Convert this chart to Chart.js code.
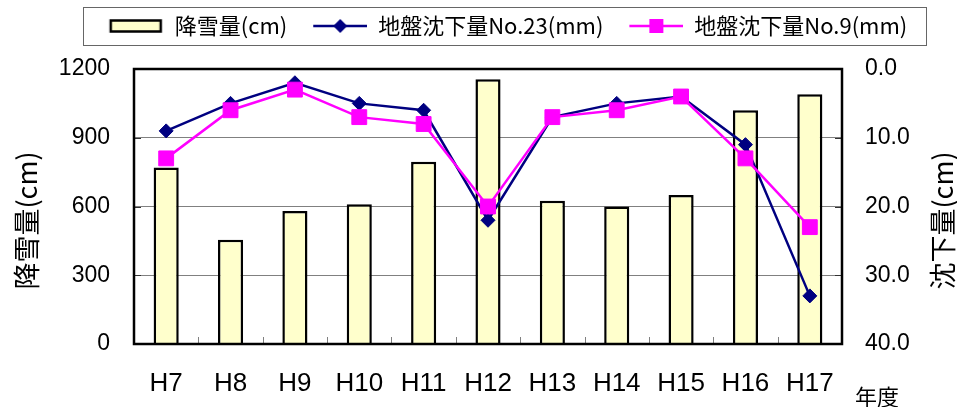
<!DOCTYPE html>
<html lang="ja">
<head>
<meta charset="utf-8">
<title>降雪量と地盤沈下量</title>
<script src="https://cdn.jsdelivr.net/npm/chart.js@4.4.1/dist/chart.umd.min.js"></script>
<style>
  html, body { margin: 0; padding: 0; background: #fff; }
  canvas { display: block; }
</style>
</head>
<body>
<canvas id="grafico" width="957" height="407"></canvas>
<script>
// valores
const years = ["H7", "H8", "H9", "H10", "H11", "H12", "H13", "H14", "H15", "H16", "H17"];
const snowfall = [770, 455, 580, 610, 795, 1155, 625, 600, 650, 1020, 1090];
const subsidenceNo23 = [9.0, 5.0, 2.0, 5.0, 6.0, 22.0, 7.0, 5.0, 4.0, 11.0, 33.0];
const subsidenceNo9 = [13.0, 6.0, 3.0, 7.0, 8.0, 20.0, 7.0, 6.0, 4.0, 13.0, 23.0];
const snowTicks = [0, 300, 600, 900, 1200];
const subsidenceTicks = [0, 10, 20, 30, 40];

const labelFont = "'Noto Sans CJK JP', sans-serif";
const numFont = "'Liberation Sans', Arial, sans-serif";

// amostras da legenda desenhadas num canvas pequeno (margem transparente à esquerda)
function makeSwatch(draw) {
  const c = document.createElement("canvas");
  c.width = 70;
  c.height = 22;
  draw(c.getContext("2d"));
  return c;
}

const swatches = [
  makeSwatch(g => {
    g.fillStyle = "#FFFFCC";
    g.strokeStyle = "#000";
    g.lineWidth = 2.5;
    g.fillRect(17, 5.5, 50, 11);
    g.strokeRect(17, 5.5, 50, 11);
  }),
  makeSwatch(g => {
    g.strokeStyle = "#000080";
    g.fillStyle = "#000080";
    g.lineWidth = 2.5;
    g.beginPath(); g.moveTo(16, 11); g.lineTo(70, 11); g.stroke();
    g.beginPath(); g.moveTo(43, 4); g.lineTo(50, 11); g.lineTo(43, 18); g.lineTo(36, 11); g.closePath(); g.fill();
  }),
  makeSwatch(g => {
    g.strokeStyle = "#FF00FF";
    g.fillStyle = "#FF00FF";
    g.lineWidth = 2.5;
    g.beginPath(); g.moveTo(16, 11); g.lineTo(70, 11); g.stroke();
    g.fillRect(36, 4, 14, 14);
  })
];

function verticalText(ctx, text, cx, cy) {
  ctx.save();
  ctx.translate(cx, cy);
  ctx.rotate(-Math.PI / 2);
  ctx.textAlign = "center";
  ctx.textBaseline = "middle";
  ctx.fillText(text, 0, 0);
  ctx.restore();
}

// moldura, marcas internas, títulos dos eixos e caixa da legenda
const decor = {
  id: "decor",
  afterDatasetsDraw(chart) {
    const { ctx, chartArea: a, scales: { x, y } } = chart;
    ctx.save();
    ctx.lineWidth = 1;
    ctx.strokeStyle = "#808080";
    for (let i = 1; i < years.length; i++) {
      const px = Math.round((x.getPixelForValue(i - 1) + x.getPixelForValue(i)) / 2) + 0.5;
      ctx.beginPath();
      ctx.moveTo(px, a.bottom);
      ctx.lineTo(px, a.bottom - 7);
      ctx.stroke();
    }
    ctx.strokeStyle = "#333";
    snowTicks.forEach(v => {
      const py = Math.round(y.getPixelForValue(v)) + 0.5;
      ctx.beginPath();
      ctx.moveTo(a.left, py); ctx.lineTo(a.left + 7, py);
      ctx.moveTo(a.right - 7, py); ctx.lineTo(a.right, py);
      ctx.stroke();
    });
    ctx.strokeStyle = "#000";
    ctx.lineWidth = 2.5;
    ctx.strokeRect(a.left, a.top, a.width, a.height);
    ctx.restore();
  },
  afterDraw(chart) {
    const { ctx, chartArea: a } = chart;
    ctx.save();
    ctx.fillStyle = "#000";
    ctx.font = "27px " + labelFont;
    const midY = (a.top + a.bottom) / 2 + 14;
    verticalText(ctx, "降雪量(cm)", a.left - 107, midY);
    verticalText(ctx, "沈下量(cm)", a.right + 101, midY);

    ctx.font = "22px " + labelFont;
    ctx.textAlign = "center";
    ctx.textBaseline = "middle";
    ctx.fillText("年度", a.right + 35, a.bottom + 53);

    const boxes = chart.legend.legendHitBoxes;
    if (boxes && boxes.length) {
      const first = boxes[0];
      const last = boxes[boxes.length - 1];
      const left = first.left + 16 - 27;
      const right = last.left + last.width + 18;
      const top = first.top + first.height / 2 - 19;
      ctx.strokeStyle = "#666";
      ctx.lineWidth = 1;
      ctx.strokeRect(Math.round(left) + 0.5, Math.round(top) + 0.5, Math.round(right - left), 38);
    }
    ctx.restore();
  }
};

new Chart(document.getElementById("grafico"), {
  data: {
    labels: years,
    datasets: [
      {
        type: "bar",
        label: "降雪量(cm)",
        data: snowfall,
        yAxisID: "y",
        backgroundColor: "#FFFFCC",
        borderColor: "#000",
        borderWidth: 2.5,
        barPercentage: 0.39,
        categoryPercentage: 1,
        order: 3
      },
      {
        type: "line",
        label: "地盤沈下量No.23(mm)",
        data: subsidenceNo23,
        yAxisID: "y1",
        borderColor: "#000080",
        backgroundColor: "#000080",
        borderWidth: 2.5,
        pointStyle: "rectRot",
        pointRadius: 7,
        pointBorderWidth: 1,
        tension: 0,
        order: 2
      },
      {
        type: "line",
        label: "地盤沈下量No.9(mm)",
        data: subsidenceNo9,
        yAxisID: "y1",
        borderColor: "#FF00FF",
        backgroundColor: "#FF00FF",
        borderWidth: 2.5,
        pointStyle: "rect",
        pointRadius: 10.5,
        pointBorderWidth: 1,
        tension: 0,
        order: 1
      }
    ]
  },
  options: {
    responsive: false,
    animation: false,
    events: [],
    layout: { padding: { left: 44, top: 5, right: 0, bottom: 0 } },
    plugins: {
      tooltip: { enabled: false },
      // título vazio só para abrir espaço entre a legenda e o gráfico
      title: {
        display: true,
        text: "",
        weight: 500,
        padding: 0,
        font: { size: 22, lineHeight: 1 }
      },
      legend: {
        position: "top",
        labels: {
          usePointStyle: true,
          pointStyleWidth: 70,
          padding: 10,
          color: "#000",
          font: { family: labelFont, size: 22 },
          generateLabels(chart) {
            const items = Chart.defaults.plugins.legend.labels.generateLabels(chart);
            items.sort((p, q) => p.datasetIndex - q.datasetIndex);
            items.forEach(it => { it.pointStyle = swatches[it.datasetIndex]; });
            return items;
          }
        }
      }
    },
    scales: {
      x: {
        grid: { display: false, drawTicks: false },
        border: { display: false },
        ticks: {
          color: "#000",
          padding: 24,
          font: { family: "'Liberation Sans Narrow', 'Arial Narrow', " + numFont, size: 26 }
        },
        afterFit(scale) { scale.height = 63; }
      },
      y: {
        position: "left",
        min: 0,
        max: 1200,
        afterBuildTicks(scale) { scale.ticks = snowTicks.map(v => ({ value: v })); },
        grid: { color: "#808080", lineWidth: 1, drawTicks: false },
        border: { display: false },
        ticks: {
          color: "#000",
          padding: 24,
          font: { family: numFont, size: 23 },
          callback: v => String(v)
        },
        afterFit(scale) { scale.width = 90; }
      },
      y1: {
        position: "right",
        reverse: true,
        min: 0,
        max: 40,
        afterBuildTicks(scale) { scale.ticks = subsidenceTicks.map(v => ({ value: v })); },
        grid: { drawOnChartArea: false, drawTicks: false },
        border: { display: false },
        ticks: {
          color: "#000",
          padding: 23,
          font: { family: numFont, size: 23 },
          callback: v => Number(v).toFixed(1)
        },
        afterFit(scale) { scale.width = 115; }
      }
    }
  },
  plugins: [decor]
});
</script>
</body>
</html>
